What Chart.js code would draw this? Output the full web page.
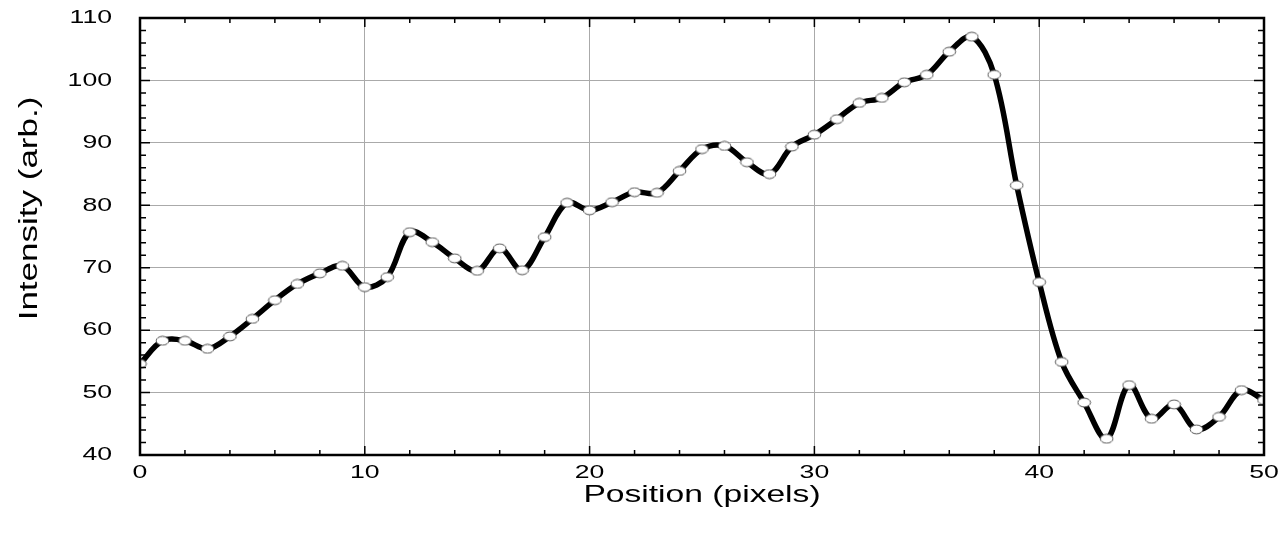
<!DOCTYPE html>
<html>
<head>
<meta charset="utf-8">
<script src="https://cdn.jsdelivr.net/npm/chart.js@4.4.1/dist/chart.umd.min.js"></script>
<style>
    html, body { margin: 0; padding: 0; background: #fff; }
    #wrap { width: 1281px; height: 539px; }
</style>
</head>
<body>
<div id="wrap"><canvas id="canva"></canvas></div>
<script>
// profile
const positions = [
    0, 1, 2, 3, 4, 5, 6, 7, 8, 9,
    10, 11, 12, 13, 14, 15, 16, 17, 18, 19,
    20, 21, 22, 23, 24, 25, 26, 27, 28, 29,
    30, 31, 32, 33, 34, 35, 36, 37, 38, 39,
    40, 41, 42, 43, 44, 45, 46, 47, 48, 49, 50,
];
const intensity = [
    54.6, 58.3, 58.3, 57.0, 59.0, 61.8, 64.8, 67.4, 69.1, 70.3,
    66.9, 68.5, 75.7, 74.1, 71.5, 69.5, 73.1, 69.6, 74.9, 80.4,
    79.2, 80.5, 82.1, 82.0, 85.5, 89.0, 89.5, 86.9, 85.0, 89.4,
    91.3, 93.8, 96.4, 97.2, 99.7, 100.9, 104.6, 107.0, 100.9, 83.2,
    67.7, 54.9, 48.4, 42.6, 51.2, 45.8, 48.1, 44.1, 46.1, 50.4, 48.8,
];
const xTicks = [0, 10, 20, 30, 40, 50];
const yTicks = [40, 50, 60, 70, 80, 90, 100, 110];

const xTitle = 'Position (pixels)';
const yTitle = 'Intensity (arb.)';

const font = "'Liberation Sans', Arial, sans-serif";

// the markers are flat white ellipses
function ellipseMarker() {
    const c = document.createElement('canvas');
    c.width = 15;
    c.height = 11;
    const g = c.getContext('2d');
    g.beginPath();
    g.ellipse(7.5, 5.5, 6.3, 4.4, 0, 0, Math.PI * 2);
    g.fillStyle = '#fff';
    g.fill();
    g.lineWidth = 1;
    g.strokeStyle = '#555';
    g.stroke();
    return c;
}

// the reference type is stretched along the writing direction,
// and its y title sits a bit above the middle of the axis
const wideText = {
    id: 'wideText',
    beforeInit(chart) {
        const ctx = chart.ctx;
        const fill = ctx.fillText;
        ctx.fillText = function (text, x, y, maxWidth) {
            this.save();
            this.translate(x + (text === yTitle ? 28 : 0), y);
            this.scale(1.4, 1);
            fill.call(this, text, 0, 0, maxWidth);
            this.restore();
        };
    },
};

// box frame plus small inward ticks on all four sides
const frameTicks = {
    id: 'frameTicks',
    afterDatasetsDraw(chart) {
        const { ctx, chartArea: a, scales } = chart;
        const x = scales.x;
        const y = scales.y;
        ctx.save();
        ctx.strokeStyle = '#000';
        ctx.lineWidth = 1.5;
        ctx.beginPath();
        for (let v = x.min; v <= x.max; v += 2) {
            const px = x.getPixelForValue(v);
            const len = v % 10 === 0 ? 9 : 5;
            ctx.moveTo(px, a.bottom);
            ctx.lineTo(px, a.bottom - len);
            ctx.moveTo(px, a.top);
            ctx.lineTo(px, a.top + len);
        }
        for (let v = y.min; v <= y.max; v += 2) {
            const py = y.getPixelForValue(v);
            const len = v % 10 === 0 ? 10 : 6;
            ctx.moveTo(a.left, py);
            ctx.lineTo(a.left + len, py);
            ctx.moveTo(a.right, py);
            ctx.lineTo(a.right - len, py);
        }
        ctx.stroke();
        ctx.lineWidth = 2.5;
        ctx.strokeRect(a.left, a.top, a.right - a.left, a.bottom - a.top);
        ctx.restore();
    },
};

const canvas = document.querySelector('#canva').getContext('2d');
new Chart(canvas, {
    type: 'line',
    data: {
        datasets: [
            {
                data: positions.map((p, i) => ({ x: p, y: intensity[i] })),
                borderColor: '#000',
                borderWidth: 5.5,
                tension: 0.35,
                pointStyle: ellipseMarker(),
            },
        ],
    },
    options: {
        responsive: true,
        maintainAspectRatio: false,
        animation: false,
        layout: {
            padding: { top: 18, right: 17, left: 0, bottom: 0 },
        },
        scales: {
            x: {
                type: 'linear',
                min: 0,
                max: 50,
                afterBuildTicks: (scale) => {
                    scale.ticks = xTicks.map((v) => ({ value: v }));
                },
                afterFit: (scale) => {
                    scale.height = 84;
                    scale.paddingLeft = 0;
                    scale.paddingRight = 0;
                },
                border: { display: false },
                grid: {
                    drawTicks: false,
                    color: (c) => (c.tick && (c.tick.value === 0 || c.tick.value === 50) ? 'rgba(0,0,0,0)' : '#aaaaaa'),
                    lineWidth: 1,
                },
                ticks: {
                    color: '#000',
                    padding: 6,
                    font: { family: font, size: 19 },
                },
                title: {
                    display: true,
                    text: xTitle,
                    color: '#000',
                    padding: { top: 0, bottom: 29 },
                    font: { family: font, size: 24 },
                },
            },
            y: {
                type: 'linear',
                min: 40,
                max: 110,
                afterBuildTicks: (scale) => {
                    scale.ticks = yTicks.map((v) => ({ value: v }));
                },
                afterFit: (scale) => {
                    scale.width = 140;
                    scale.paddingTop = 0;
                    scale.paddingBottom = 0;
                },
                border: { display: false },
                grid: {
                    drawTicks: false,
                    color: (c) => (c.tick && (c.tick.value === 40 || c.tick.value === 110) ? 'rgba(0,0,0,0)' : '#aaaaaa'),
                    lineWidth: 1,
                },
                ticks: {
                    color: '#000',
                    padding: 28,
                    font: { family: font, size: 19 },
                },
                title: {
                    display: true,
                    text: yTitle,
                    color: '#000',
                    padding: { bottom: 0, top: 15 },
                    font: { family: font, size: 25 },
                },
            },
        },
        plugins: {
            legend: { display: false },
            tooltip: { enabled: false },
        },
    },
    plugins: [wideText, frameTicks],
});
</script>
</body>
</html>
